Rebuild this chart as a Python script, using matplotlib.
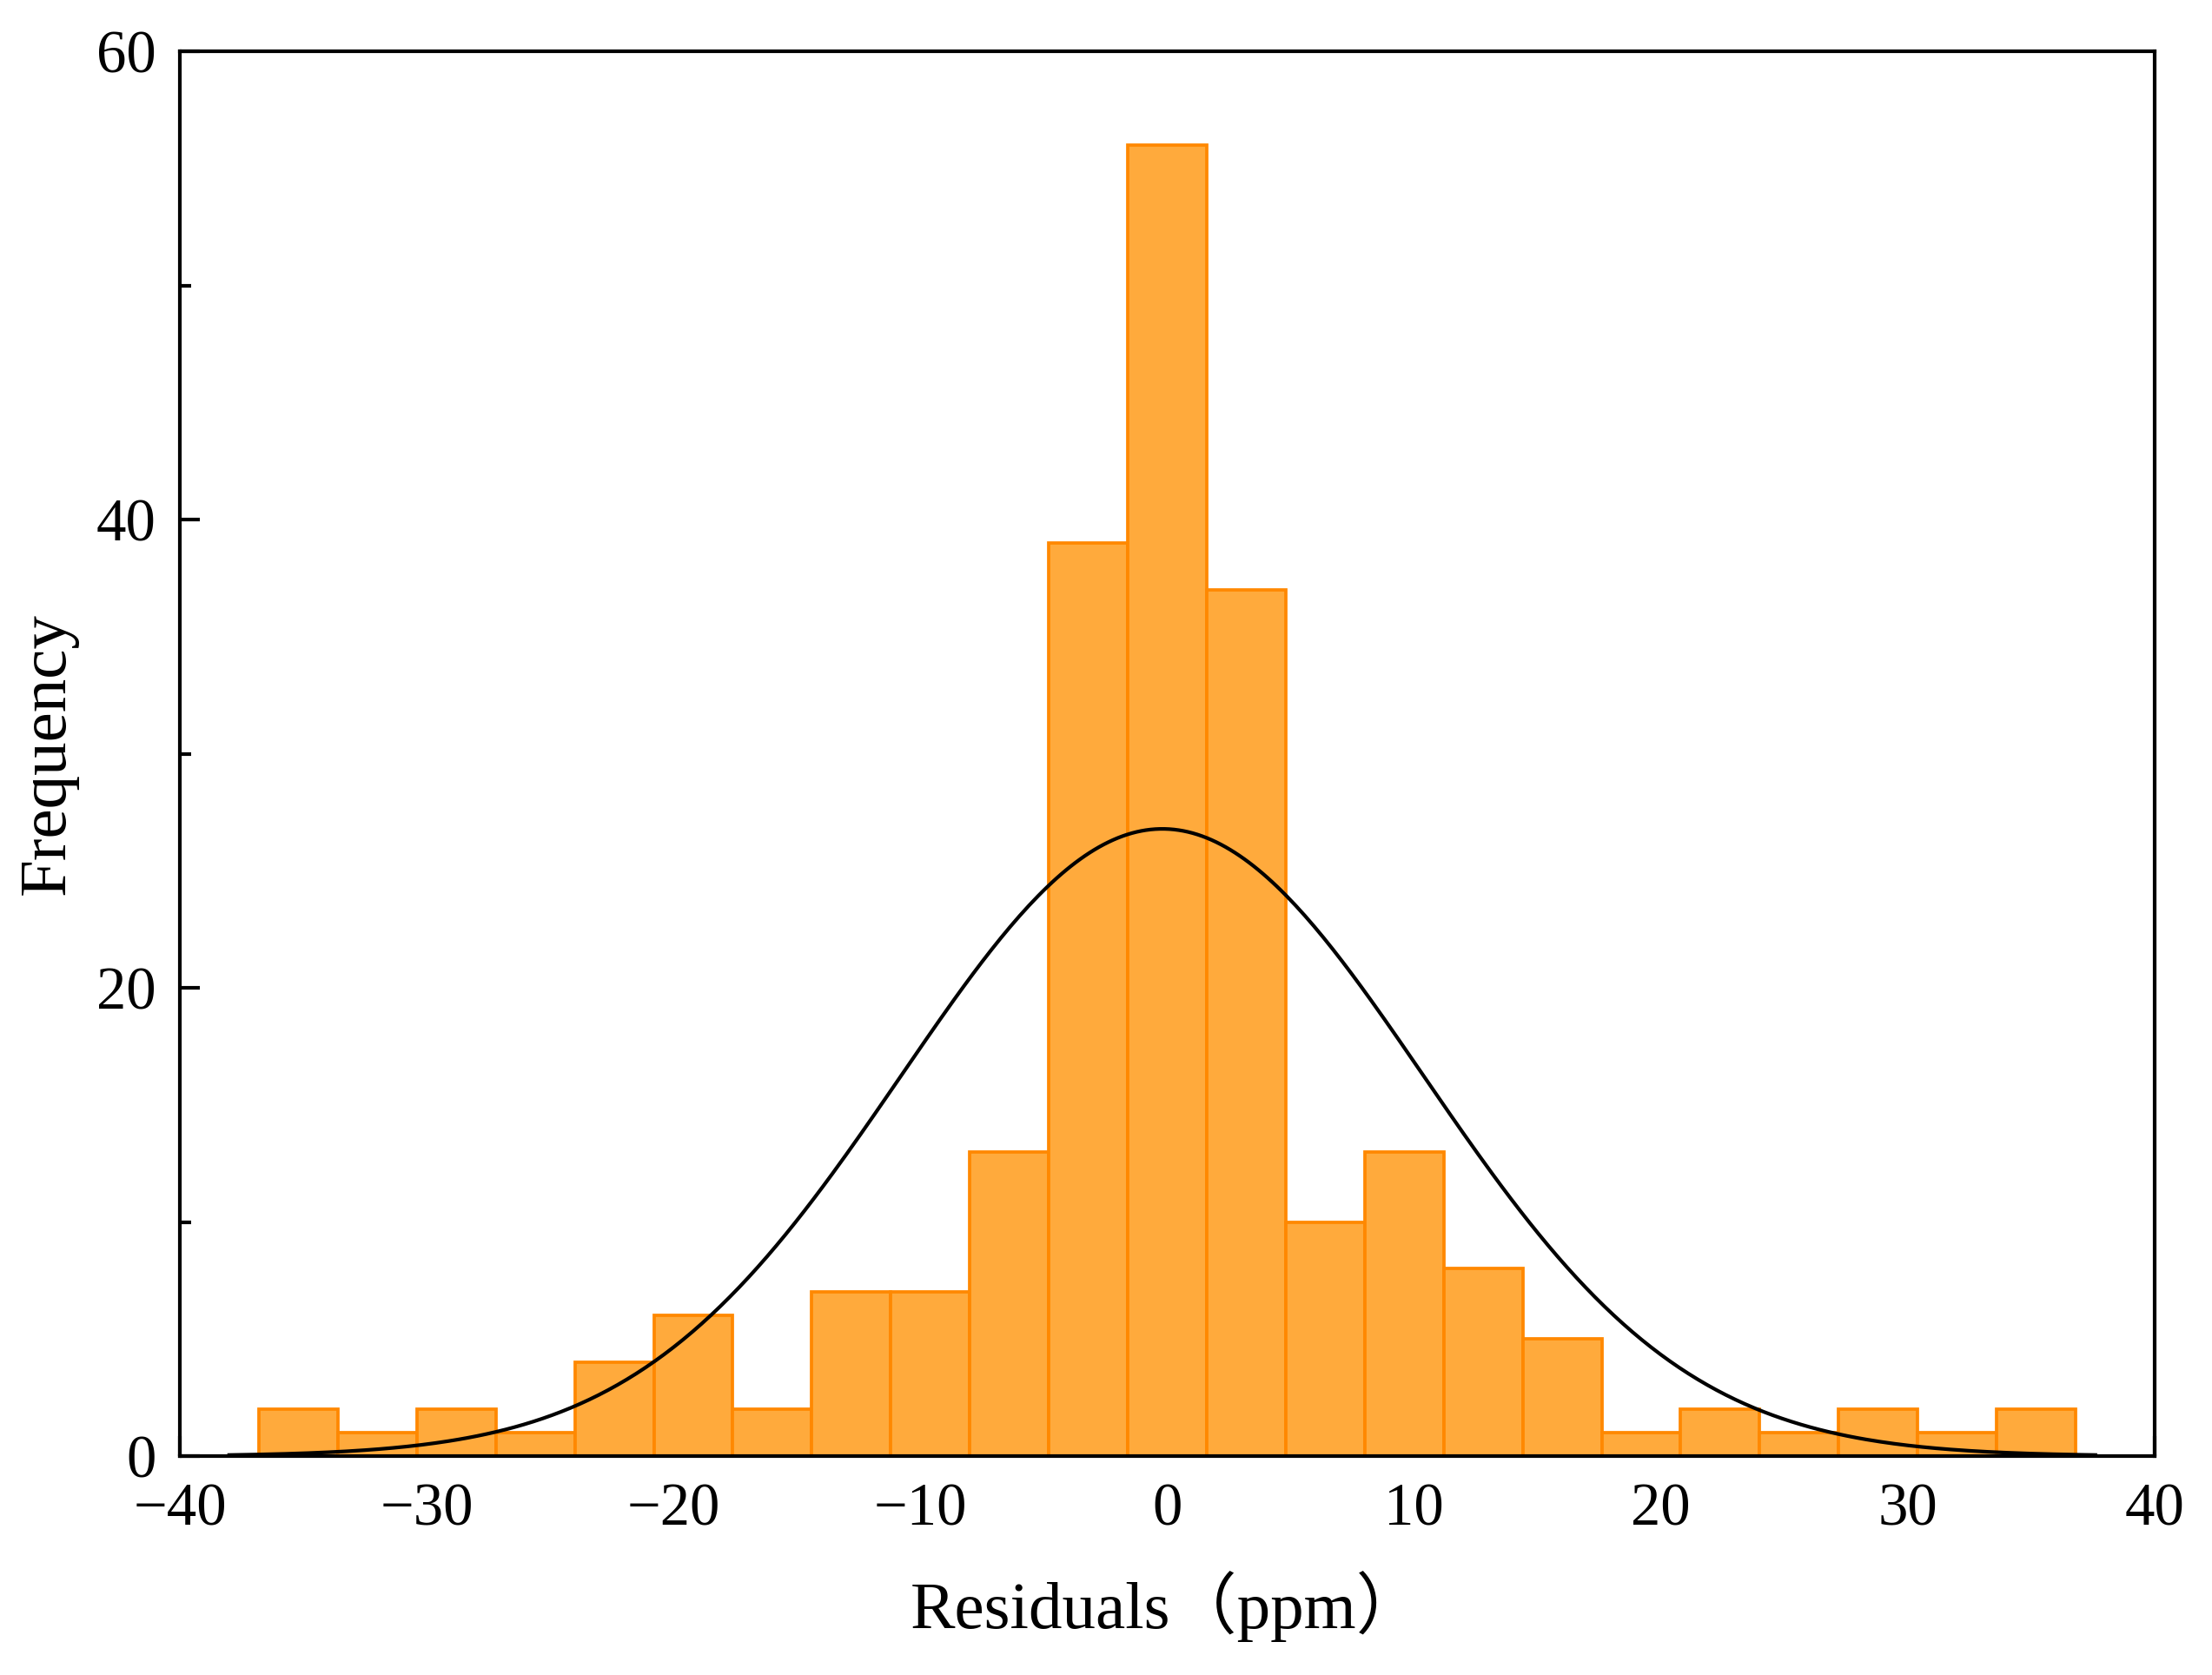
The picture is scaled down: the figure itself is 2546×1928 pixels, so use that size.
import numpy as np
import matplotlib
matplotlib.use("Agg")
import matplotlib.pyplot as plt
from matplotlib.ticker import MultipleLocator

# histogram of residuals, bin edges and counts
bin_edges = [-36.8, -33.6, -30.4, -27.2, -24.0, -20.8, -17.6, -14.4, -11.2, -8.0,
             -4.8, -1.6, 1.6, 4.8, 8.0, 11.2, 14.4, 17.6, 20.8, 24.0, 27.2,
             30.4, 33.6, 36.8]
counts = [2, 1, 2, 1, 4, 6, 2, 7, 7, 13, 39, 56, 37, 10, 13, 8, 5, 1, 2, 1, 2, 1, 2]

# normal fit parameters
fit_mean = -0.2
fit_sd = 10.58
curve_range = [-38.0, 37.6]

plt.rcParams["font.family"] = ["Liberation Serif", "Noto Sans CJK SC"]
plt.rcParams["axes.unicode_minus"] = True

fig = plt.figure(figsize=(2546 / 300, 1928 / 300), dpi=300)
ax = fig.add_axes([207 / 2546, 1 - 1676 / 1928, (2480 - 207) / 2546, (1676 - 59) / 1928])

edges = np.array(bin_edges)
widths = np.diff(edges)
ax.bar(edges[:-1], counts, width=widths, align="edge", color="#FFAA3C",
       edgecolor="#FF8800", linewidth=0.9, zorder=2)

n_total = sum(counts)
bw = widths.mean()
xs = np.linspace(curve_range[0], curve_range[1], 400)
pdf = np.exp(-0.5 * ((xs - fit_mean) / fit_sd) ** 2) / (fit_sd * np.sqrt(2 * np.pi))
ax.plot(xs, n_total * bw * pdf, color="black", linewidth=1.0, zorder=3)

ax.set_xlim(-40, 40)
ax.set_ylim(0, 60)
ax.xaxis.set_major_locator(MultipleLocator(10))
ax.xaxis.set_minor_locator(MultipleLocator(5))
ax.yaxis.set_major_locator(MultipleLocator(20))
ax.yaxis.set_minor_locator(MultipleLocator(10))
ax.tick_params(which="both", direction="in", top=False, right=False,
               labelsize=16.5, width=1.0)
ax.tick_params(axis="x", which="both", pad=7.5)
ax.tick_params(axis="y", which="both", pad=6.5)
ax.tick_params(which="major", length=5.5)
ax.tick_params(which="minor", length=3.2)
for sp in ax.spines.values():
    sp.set_linewidth(1.0)
    sp.set_zorder(4)

ax.set_xlabel("Residuals（ppm）", fontsize=18.5, labelpad=9)
ax.set_ylabel("Frequency", fontsize=18.5, labelpad=5)

fig.savefig("out.png", dpi=300)
